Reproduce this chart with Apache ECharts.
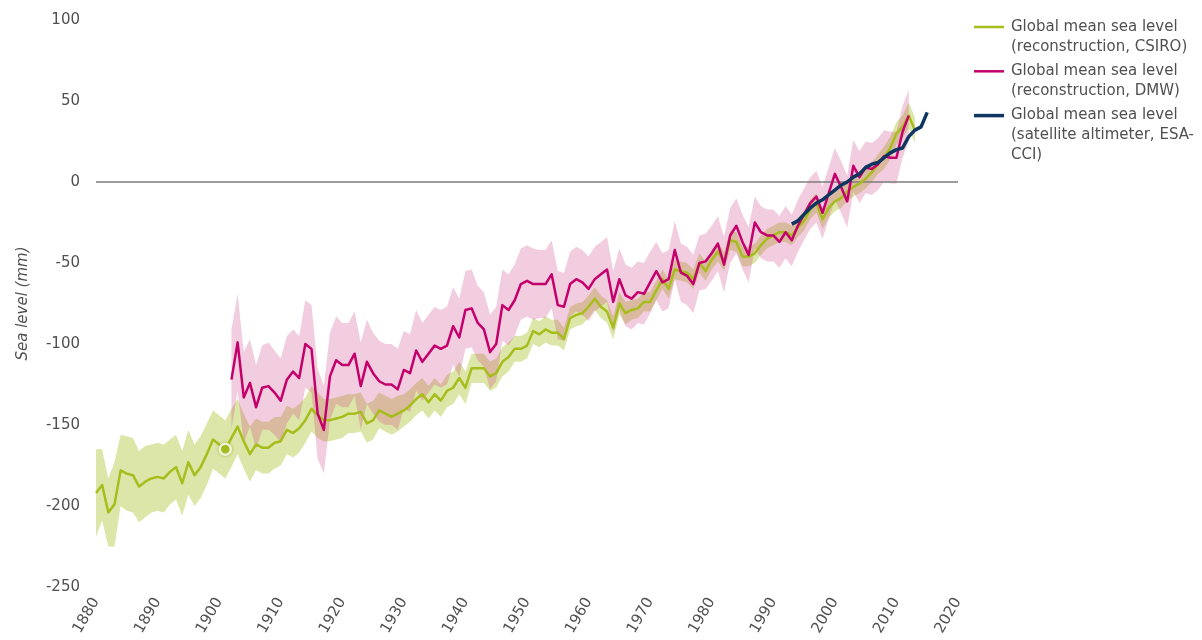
<!DOCTYPE html>
<html>
<head>
<meta charset="utf-8">
<script src="https://cdn.jsdelivr.net/npm/echarts@6/dist/echarts.min.js"></script>
<style>
  html, body { margin: 0; padding: 0; background: #ffffff; }
  #chart { width: 1202px; height: 640px; }
</style>
</head>
<body>
<div id="chart"></div>
<script>
// Global mean sea level, annual values in mm.

// CSIRO reconstruction, 1880-2013
const csiroStart = 1880;
const csiroLevel = [
  -192, -187, -204, -199, -178, -180, -181, -188, -185, -183,
  -182, -183, -179, -176, -186, -173, -181, -176, -168, -159,
  -162, -165, -158, -151, -160, -168, -162, -164, -164, -161,
  -160, -153, -155, -152, -147, -140, -144, -147, -147, -146,
  -145, -143, -143, -142, -149, -147, -141, -143, -145, -143,
  -141, -138, -134, -131, -136, -131, -135, -129, -127, -121,
  -127, -115, -115, -115, -120, -118, -111, -108, -103, -103,
  -101, -92, -94, -91, -93, -93, -97, -84, -82, -81,
  -77, -72, -77, -80, -90, -75, -81, -79, -78, -74,
  -74, -67, -60, -66, -54, -55, -56, -60, -50, -55,
  -48, -43, -49, -36, -37, -46, -46, -44, -39, -35,
  -33, -31, -31, -33, -28, -24, -17, -13, -23, -16,
  -12, -10, -6, -3, -1, 2, 6, 11, 15, 21,
  30, 34, 41, 32
];
const csiroUncertainty = [
  27, 22, 21, 26, 22, 23, 23, 22, 22, 21,
  21, 21, 20, 20, 20, 20, 19, 19, 19, 18,
  18, 18, 18, 17, 17, 17, 16, 16, 16, 16,
  15, 15, 15, 15, 14, 14, 14, 13, 13, 13,
  13, 12, 12, 12, 12, 12, 11, 11, 11, 11,
  10, 10, 10, 10, 10, 10, 10, 10, 10, 10,
  10, 9, 9, 9, 9, 9, 9, 9, 8, 8,
  8, 8, 8, 8, 8, 8, 7, 7, 7, 7,
  7, 7, 7, 7, 7, 7, 7, 6, 6, 6,
  6, 6, 6, 6, 6, 6, 6, 6, 6, 6,
  6, 6, 6, 6, 6, 6, 6, 6, 6, 6,
  6, 6, 6, 6, 6, 6, 6, 6, 6, 6,
  6, 6, 6, 6, 6, 6, 6, 6, 7, 7,
  7, 7, 8, 8
];

// DMW reconstruction, 1902-2012
const dmwStart = 1902;
const dmwLevel = [
  -122, -99, -133, -124, -139, -127, -126, -130,
  -135, -122, -117, -121, -100, -103, -143, -153, -120, -110,
  -113, -113, -106, -126, -111, -118, -123, -125, -125, -128,
  -116, -118, -104, -111, -106, -101, -103, -101, -89, -96,
  -79, -78, -87, -91, -105, -100, -76, -79, -73, -63,
  -61, -63, -63, -63, -57, -76, -77, -63, -60, -62,
  -66, -60, -57, -54, -74, -60, -70, -72, -68, -69,
  -62, -55, -62, -60, -42, -56, -58, -63, -50, -49,
  -44, -38, -51, -33, -27, -37, -45, -25, -31, -33,
  -33, -37, -31, -36, -27, -20, -13, -9, -19, -7,
  5, -3, -12, 10, 3, 9, 8, 11, 16, 15,
  15, 31, 41
];
const dmwUncertainty = [
  31, 30, 28, 27, 26, 26, 27, 26,
  26, 27, 26, 26, 27, 27, 28, 27, 27, 27,
  26, 26, 26, 27, 26, 25, 25, 25, 25, 25,
  24, 24, 25, 24, 24, 24, 24, 24, 24, 24,
  24, 24, 23, 23, 23, 23, 22, 22, 22, 22,
  22, 22, 21, 21, 21, 21, 21, 20, 20, 20,
  20, 20, 20, 20, 19, 19, 19, 19, 19, 19,
  19, 18, 18, 18, 18, 18, 18, 18, 17, 17,
  17, 17, 17, 17, 17, 17, 17, 16, 16, 16,
  16, 16, 16, 16, 16, 16, 16, 16, 16, 16,
  16, 16, 16, 16, 16, 16, 16, 16, 16, 16,
  16, 16, 16
];

// Satellite altimeter (ESA-CCI), 1993-2015
const altimeterStart = 1993;
const altimeterLevel = [
  -26, -24, -20, -16, -13, -11, -8, -5, -2, 0,
  3, 5, 9, 11, 12, 15, 18, 20, 21, 28,
  32, 34, 43
];

const highlightYear = 1901;

const xRange = { min: 1880, max: 2020, step: 10 };
const yRange = { min: -250, max: 100, step: 50 };
const zeroLevel = 0;

const seriesLabels = [
  'Global mean sea level\n(reconstruction, CSIRO)',
  'Global mean sea level\n(reconstruction, DMW)',
  'Global mean sea level\n(satellite altimeter, ESA-\nCCI)'
];
const yAxisTitle = 'Sea level (mm)';

const COLORS = {
  csiro: '#a6bd1c',
  csiroBand: 'rgba(166, 190, 30, 0.38)',
  dmw: '#c4006c',
  dmwBand: 'rgba(205, 60, 130, 0.26)',
  altimeter: '#0f3660',
  zero: '#7d7d7d',
  text: '#505050'
};
const FONT = 'DejaVu Sans, Verdana, sans-serif';

function pairs(start, values) {
  return values.map((v, i) => [start + i, v]);
}

// Shaded uncertainty envelope drawn as one polygon through the axis scales
function bandSeries(name, start, level, unc, fill, z) {
  const data = level.map((v, i) => [start + i, v - unc[i], v + unc[i]]);
  return {
    type: 'custom',
    name: name,
    silent: true,
    z: z,
    data: data,
    encode: { x: 0, y: [1, 2] },
    renderItem: function (params, api) {
      if (params.dataIndex !== 0) return null;
      const upper = data.map(d => api.coord([d[0], d[2]]));
      const lower = data.map(d => api.coord([d[0], d[1]])).reverse();
      return {
        type: 'polygon',
        shape: { points: upper.concat(lower) },
        style: { fill: fill, stroke: null }
      };
    }
  };
}

function lineSeries(name, start, values, color, width, z) {
  return {
    type: 'line',
    name: name,
    data: pairs(start, values),
    showSymbol: false,
    symbol: 'none',
    silent: true,
    z: z,
    lineStyle: { color: color, width: width, join: 'round' },
    itemStyle: { color: color }
  };
}

// Legend drawn with graphic elements so the key line sits on the first text row
const legendItems = [
  { color: COLORS.csiro, width: 2.5 },
  { color: COLORS.dmw, width: 2.5 },
  { color: COLORS.altimeter, width: 3.5 }
];
const legendGraphics = [];
legendItems.forEach((item, i) => {
  const rowY = 27 + i * 44.3;
  legendGraphics.push({
    type: 'line',
    silent: true,
    shape: { x1: 974, y1: rowY, x2: 1004, y2: rowY },
    style: { stroke: item.color, lineWidth: item.width }
  });
  legendGraphics.push({
    type: 'text',
    silent: true,
    x: 1011,
    y: rowY - 10,
    style: {
      text: seriesLabels[i],
      font: '15px ' + FONT,
      fill: COLORS.text,
      lineHeight: 20,
      verticalAlign: 'top',
      align: 'left'
    }
  });
});

const chart = echarts.init(document.getElementById('chart'), null, { renderer: 'canvas' });

const highlightValue = csiroLevel[highlightYear - csiroStart];

chart.setOption({
  animation: false,
  backgroundColor: '#ffffff',
  textStyle: { fontFamily: FONT },
  grid: { left: 96, right: 244, top: 20, bottom: 53, containLabel: false },
  xAxis: {
    type: 'value',
    min: xRange.min,
    max: xRange.max,
    interval: xRange.step,
    axisLine: { show: false },
    axisTick: { show: false },
    splitLine: { show: false },
    axisLabel: {
      rotate: 60,
      margin: 12,
      fontSize: 15,
      fontFamily: FONT,
      color: COLORS.text,
      formatter: v => String(v)
    }
  },
  yAxis: {
    type: 'value',
    min: yRange.min,
    max: yRange.max,
    interval: yRange.step,
    name: yAxisTitle,
    nameLocation: 'middle',
    nameRotate: 90,
    nameGap: 65,
    nameTextStyle: {
      fontStyle: 'italic',
      fontSize: 15,
      fontFamily: FONT,
      color: COLORS.text
    },
    axisLine: { show: false },
    axisTick: { show: false },
    splitLine: { show: false },
    axisLabel: {
      margin: 16,
      fontSize: 15,
      fontFamily: FONT,
      color: COLORS.text
    }
  },
  graphic: legendGraphics,
  series: [
    bandSeries('CSIRO uncertainty', csiroStart, csiroLevel, csiroUncertainty, COLORS.csiroBand, 1),
    bandSeries('DMW uncertainty', dmwStart, dmwLevel, dmwUncertainty, COLORS.dmwBand, 2),
    {
      type: 'line',
      name: 'zero',
      data: [[xRange.min, zeroLevel], [xRange.max, zeroLevel]],
      showSymbol: false,
      symbol: 'none',
      silent: true,
      z: 3,
      lineStyle: { color: COLORS.zero, width: 1.5 }
    },
    lineSeries(seriesLabels[0], csiroStart, csiroLevel, COLORS.csiro, 2.5, 4),
    lineSeries(seriesLabels[1], dmwStart, dmwLevel, COLORS.dmw, 2.5, 5),
    lineSeries(seriesLabels[2], altimeterStart, altimeterLevel, COLORS.altimeter, 3.5, 6),
    {
      type: 'scatter',
      name: 'highlight',
      silent: true,
      z: 7,
      data: [[highlightYear, highlightValue]],
      symbol: 'circle',
      symbolSize: 11,
      itemStyle: {
        color: COLORS.csiro,
        borderColor: '#ffffff',
        borderWidth: 2.5,
        shadowBlur: 3,
        shadowColor: 'rgba(150, 175, 20, 0.9)'
      }
    }
  ]
});
</script>
</body>
</html>
